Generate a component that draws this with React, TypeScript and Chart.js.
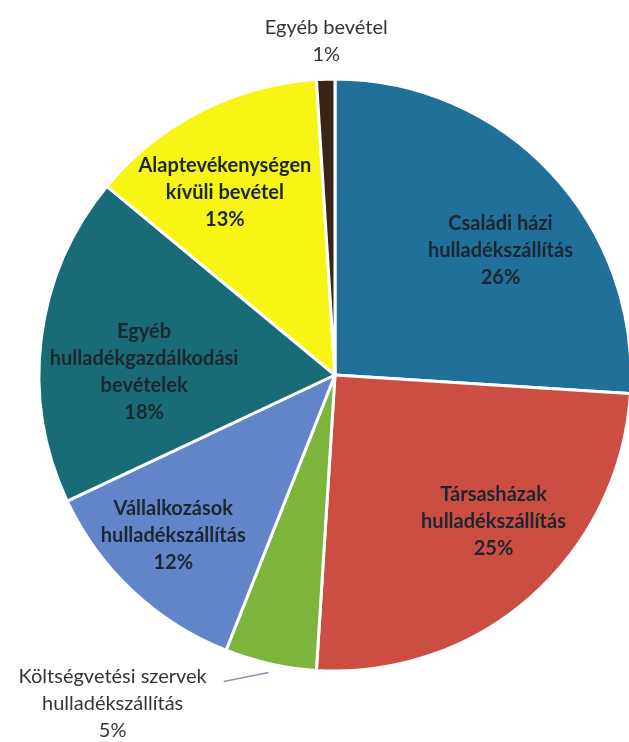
import React, { useEffect, useRef } from "react";
import { Chart, registerables } from "chart.js";

Chart.register(...registerables);

const categories: string[][] = [
  ["Családi házi", "hulladékszállítás"],
  ["Társasházak", "hulladékszállítás"],
  ["Költségvetési szervek", "hulladékszállítás"],
  ["Vállalkozások", "hulladékszállítás"],
  ["Egyéb", "hulladékgazdálkodási", "bevételek"],
  ["Alaptevékenységen", "kívüli bevétel"],
  ["Egyéb bevétel"],
];
const shares: number[] = [26, 25, 5, 12, 18, 13, 1];
const colors: string[] = ["#21709a", "#cc4e42", "#7db43c", "#6185c8", "#1a6b78", "#f8f414", "#3a2418"];

// label placement styling: radius fraction, angle nudge (deg), outside flag
const labelRadius = [0.7, 0.73, 1.34, 0.77, 0.645, 0.72, 1.13];
const labelNudge = [6.2, -5.8, 21.5, 2, -6.3, -4.1, 0.3];
const labelOutside = [false, false, true, false, false, false, true];

const labelPlugin = {
  id: "pieLabels",
  afterDatasetsDraw(chart: any) {
    const ctx = chart.ctx;
    const meta = chart.getDatasetMeta(0);
    meta.data.forEach((arc: any, i: number) => {
      const p = arc.getProps(["x", "y", "startAngle", "endAngle", "outerRadius"], true);
      const mid = (p.startAngle + p.endAngle) / 2;
      const a = mid + (labelNudge[i] * Math.PI) / 180;
      const r = p.outerRadius * labelRadius[i];
      const cx = p.x + Math.cos(a) * r;
      const cy = p.y + Math.sin(a) * r;
      const lines = [...categories[i], shares[i] + "%"];
      const outside = labelOutside[i];
      const lh = 27;
      ctx.save();
      ctx.font = outside ? "normal 20px Lato" : "bold 20px Lato";
      ctx.fillStyle = outside ? "#353535" : "#1c2630";
      ctx.textAlign = "center";
      ctx.textBaseline = "middle";
      const top = cy - ((lines.length - 1) * lh) / 2;
      lines.forEach((ln, k) => ctx.fillText(ln, cx, top + k * lh));
      if (outside && i === 2) {
        const w = ctx.measureText(lines[0]).width;
        const sx = p.x + Math.cos(mid) * p.outerRadius * 1.03;
        const sy = p.y + Math.sin(mid) * p.outerRadius * 1.03;
        ctx.strokeStyle = "#8a94a8";
        ctx.lineWidth = 1.5;
        ctx.beginPath();
        ctx.moveTo(sx, sy);
        ctx.lineTo(cx + w / 2 + 17, top + 5);
        ctx.stroke();
      }
      ctx.restore();
    });
  },
};

export default function App() {
  const ref = useRef<HTMLCanvasElement>(null);
  useEffect(() => {
    if (!ref.current) return;
    const chart = new Chart(ref.current, {
      type: "pie",
      data: {
        labels: categories.map((c) => c.join(" ")),
        datasets: [
          {
            data: shares,
            backgroundColor: colors,
            borderColor: "#ffffff",
            borderWidth: 3,
            clip: false,
          } as any,
        ],
      },
      options: {
        responsive: false,
        animation: false,
        radius: 296,
        layout: { padding: { left: 41, right: 0, top: 8, bottom: 0 } },
        plugins: { legend: { display: false }, tooltip: { enabled: false } },
      } as any,
      plugins: [labelPlugin],
    });
    return () => chart.destroy();
  }, []);
  return (
    <div style={{ position: "fixed", left: 0, top: 0, width: 629, height: 742, background: "#fff" }}>
      <canvas ref={ref} width={629} height={742} style={{ width: 629, height: 742, display: "block" }} />
    </div>
  );
}
